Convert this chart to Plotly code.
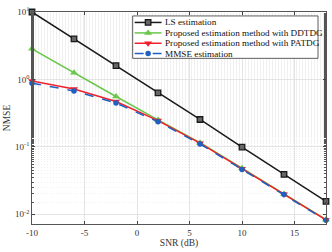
import plotly.graph_objects as go

snr = [-10, -6, -2, 2, 6, 10, 14, 18]
ls_est = [10.0, 4.0, 1.6, 0.63, 0.254, 0.099, 0.039, 0.0155]
ddtdg = [2.84, 1.25, 0.557, 0.25, 0.115, 0.048, 0.020, 0.0083]
patdg = [0.946, 0.72, 0.47, 0.245, 0.113, 0.047, 0.0198, 0.0082]
mmse = [0.88, 0.675, 0.445, 0.235, 0.11, 0.046, 0.0195, 0.0081]

names = ["LS estimation",
         "Proposed estimation method with DDTDG",
         "Proposed estimation method with PATDG",
         "MMSE estimation"]

xticks = [-10, -5, 0, 5, 10, 15]
xticktext = ["-10", "-5", "0", "5", "10", "15"]
yticks = [0.01, 0.1, 1, 10]
yticktext = ["10<sup>-2</sup>", "10<sup>-1</sup>", "10<sup>0</sup>", "10<sup>1</sup>"]

SERIF = "Liberation Serif"
W, H = 332, 252
ML, MR, MT, MB = 32, 5, 9, 28
PW, PH = W - ML - MR, H - MT - MB

styles = [
    dict(line=dict(color="#1a1a1a", width=1.5),
         marker=dict(symbol="square", size=5.5, color="#666666", line=dict(color="#1a1a1a", width=1.3))),
    dict(line=dict(color="#6ac74a", width=1.5),
         marker=dict(symbol="triangle-up", size=7, color="#6ac74a")),
    dict(line=dict(color="#f0202a", width=1.5),
         marker=dict(symbol="triangle-down", size=7, color="#f0202a")),
    dict(line=dict(color="#2060c0", width=1.5, dash="dash"),
         marker=dict(symbol="circle", size=5.5, color="#2060c0")),
]
series = [ls_est, ddtdg, patdg, mmse]

fig = go.Figure()
for name, vals, st in zip(names, series, styles):
    fig.add_trace(go.Scatter(x=snr, y=vals, name=name, mode="lines+markers",
                             line=st["line"], marker=st["marker"],
                             cliponaxis=False, showlegend=False))

# --- custom legend (compact, Matlab-like) drawn on an overlay axis in plot-area fractions
def fx(px):
    return (px - ML) / PW

def fy(py):
    return (H - MB - py) / PH

box = (133, 319, 13, 56)  # left, right, top, bottom in pixels
fig.add_trace(go.Scatter(
    x=[fx(box[0]), fx(box[1]), fx(box[1]), fx(box[0]), fx(box[0])],
    y=[fy(box[2]), fy(box[2]), fy(box[3]), fy(box[3]), fy(box[2])],
    mode="lines", fill="toself", fillcolor="white",
    line=dict(color="#333333", width=0.8), xaxis="x2", yaxis="y2",
    showlegend=False, hoverinfo="skip"))

row_y = [19.6, 30.2, 40.7, 51.2]
annotations = []
for name, st, ry in zip(names, styles, row_y):
    fig.add_trace(go.Scatter(x=[fx(135), fx(162)], y=[fy(ry), fy(ry)], mode="lines",
                             line=st["line"], xaxis="x2", yaxis="y2",
                             showlegend=False, hoverinfo="skip"))
    fig.add_trace(go.Scatter(x=[fx(148.5)], y=[fy(ry)], mode="markers",
                             marker=st["marker"], xaxis="x2", yaxis="y2",
                             showlegend=False, hoverinfo="skip"))
    annotations.append(dict(x=fx(163.5), y=fy(ry), xref="paper", yref="paper",
                            text=name, showarrow=False, xanchor="left", yanchor="middle",
                            font=dict(family=SERIF, size=9.2, color="#111111")))

axis_font = dict(family=SERIF, size=9, color="#333333")

fig.update_layout(
    width=W, height=H,
    margin=dict(l=ML, r=MR, t=MT, b=MB),
    paper_bgcolor="white", plot_bgcolor="white",
    font=dict(family=SERIF, size=9, color="#262626"),
    showlegend=False,
    annotations=annotations,
    xaxis=dict(range=[-10, 18], tickvals=xticks, ticktext=xticktext,
               ticks="inside", ticklen=3,
               showline=True, linecolor="#555555", linewidth=0.8, mirror="ticks",
               showgrid=True, gridcolor="#e4e4e4", gridwidth=0.8, zeroline=False,
               tickfont=axis_font,
               title=dict(text="SNR (dB)", font=dict(family=SERIF, size=9.5, color="#333333"), standoff=2)),
    yaxis=dict(type="log", range=[-2.146, 1], tickvals=yticks, ticktext=yticktext,
               ticks="inside", ticklen=3,
               showline=True, linecolor="#555555", linewidth=0.8, mirror="ticks",
               showgrid=True, gridcolor="#e4e4e4", gridwidth=0.8, zeroline=False,
               tickfont=axis_font,
               minor=dict(ticks="inside", ticklen=2, tickcolor="#555555", showgrid=True,
                          gridcolor="#f0f0f0", griddash="1px,2px", gridwidth=0.5),
               title=dict(text="NMSE", font=dict(family=SERIF, size=9.5, color="#333333"), standoff=2)),
    xaxis2=dict(overlaying="x", range=[0, 1], visible=False, fixedrange=True),
    yaxis2=dict(overlaying="y", range=[0, 1], visible=False, fixedrange=True),
)

fig.write_html("out.html", config={"displayModeBar": False},
               post_script="document.body.style.margin='0';document.body.style.overflow='hidden';")
